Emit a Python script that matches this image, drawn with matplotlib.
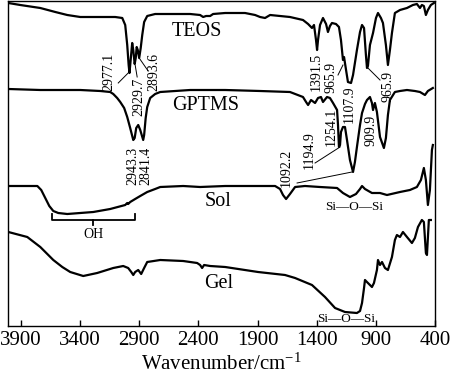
import matplotlib
matplotlib.use("Agg")
import matplotlib.pyplot as plt

plt.rcParams['font.family'] = ['Liberation Serif', 'DejaVu Serif']
plt.rcParams['mathtext.fontset'] = 'custom'
plt.rcParams['mathtext.rm'] = 'Liberation Serif'
plt.rcParams['mathtext.it'] = 'Liberation Serif:italic'

# ---------------- data (wavenumber in cm^-1, transmittance in a.u., offset) ----------------
teos_wn = [4007, 3906, 3737, 3610, 3509, 3399, 3230, 3104, 3044, 3019, 3002, 2990, 2983, 2973,
           2960, 2951, 2939, 2930, 2922, 2913, 2901, 2888, 2875, 2859, 2833, 2766, 2639, 2470,
           2386, 2360, 2335, 2301, 2276, 2174, 2006, 1921, 1879, 1837, 1794, 1626, 1516, 1473,
           1440, 1423, 1406, 1397, 1389, 1372, 1347, 1321, 1305, 1288, 1271, 1237, 1212, 1195,
           1178, 1169, 1152, 1136, 1110, 1093, 1060, 1034, 1017, 1000, 984, 975, 967, 950, 924,
           899, 882, 857, 840, 815, 798, 781, 764, 739, 696, 637, 587, 553, 527, 511, 494, 477,
           460, 435, 409]
teos_t = [323, 321, 318, 314, 311, 309, 309, 309, 308, 301, 281, 261, 253, 266,
          283, 276, 262, 268, 279, 276, 268, 278, 291, 304, 310, 312, 312, 312,
          311, 309, 310, 310, 312, 313, 313, 311, 309, 308, 311, 309, 306, 302,
          298, 301, 286, 276, 286, 301, 308, 302, 294, 300, 303, 302, 299, 286,
          266, 269, 256, 244, 243, 251, 276, 294, 301, 298, 271, 258, 260, 281, 293,
          308, 313, 308, 303, 281, 261, 276, 293, 313, 316, 318, 321, 322, 318, 321, 320, 311,
          316, 321, 323]

gptms_wn = [4007, 3737, 3399, 3230, 3146, 3120, 3087, 3061, 3028, 3002, 2977, 2951, 2939, 2926,
            2909, 2892, 2867, 2859, 2846, 2833, 2808, 2766, 2723, 2470, 2174, 1879, 1626, 1516,
            1490, 1473, 1448, 1414, 1389, 1364, 1347, 1313, 1288, 1262, 1228, 1220, 1212, 1203,
            1195, 1178, 1161, 1144, 1119, 1093, 1077, 1060, 1034, 1017, 992, 975, 950, 933, 924,
            908, 891, 865, 832, 815, 798, 781, 739, 696, 637, 570, 527, 485, 460, 418]
gptms_t = [237, 236, 236, 235, 234, 232, 228, 224, 218, 209, 198, 186, 188, 198,
           201, 196, 186, 191, 208, 219, 228, 232, 234, 236, 236, 235, 234, 229,
           224, 221, 226, 223, 228, 229, 224, 229, 228, 223, 216, 201, 179, 181,
           194, 199, 199, 186, 166, 154, 164, 179, 201, 213, 222, 226, 229, 223, 216,
           223, 214, 189, 178, 188, 211, 226, 234, 235, 236, 235, 234, 231, 235, 238]

sol_wn = [4007, 3762, 3729, 3695, 3661, 3627, 3585, 3509, 3399, 3289, 3146, 3019, 3002, 2994,
          2977, 2935, 2892, 2833, 2766, 2723, 2529, 2386, 2174, 1963, 1752, 1710, 1685, 1659,
          1626, 1583, 1499, 1372, 1228, 1178, 1119, 1068, 1034, 1017, 992, 933, 865, 806, 696,
          612, 553, 519, 494, 477, 460, 443, 426, 418]
sol_t = [140, 140, 136, 128, 120, 115, 113, 112, 113, 114, 117, 121, 123, 122,
         124, 127, 130, 134, 137, 139, 140, 139, 140, 140, 140, 137, 131, 127,
         132, 139, 140, 139, 138, 133, 129, 132, 137, 140, 137, 133, 133, 131, 134,
         136, 139, 146, 158, 146, 121, 136, 176, 181]

gel_wn = [4007, 3847, 3737, 3627, 3551, 3484, 3374, 3256, 3120, 3036, 2994, 2968, 2951, 2935,
          2909, 2884, 2859, 2833, 2723, 2529, 2411, 2386, 2369, 2352, 2301, 2174, 1896, 1668,
          1583, 1440, 1330, 1245, 1161, 1060, 1034, 1017, 1000, 992, 967, 933, 916, 891, 882,
          865, 848, 823, 798, 764, 739, 722, 696, 671, 637, 595, 570, 544, 511, 494, 477, 468,
          452, 435]
gel_t = [94, 89, 79, 66, 59, 54, 50, 53, 58, 60, 58, 54, 51, 54,
         56, 52, 58, 64, 66, 65, 63, 61, 58, 61, 60, 59, 54, 51,
         48, 41, 29, 18, 14, 13, 15, 23, 38, 46, 43, 39, 43, 56, 66,
         61, 64, 58, 56, 69, 86, 91, 89, 94, 89, 83, 88, 99, 106, 104, 73, 71,
         106, 106]

curve_names = ["TEOS", "GPTMS", "Sol", "Gel"]
name_pos = [(2411, 294), (2335, 220), (2238, 124), (2229, 43)]

xticks = [3900, 3400, 2900, 2400, 1900, 1400, 900, 400]

# peak labels: (text, x, y)
peak_labels = [("2977.1", 3154, 254), ("2929.7", 2901, 229), ("2893.6", 2774, 254),
               ("2943.3", 2951, 160), ("2841.4", 2842, 160),
               ("1391.5", 1406, 254), ("965.9", 1279, 249), ("1107.9", 1127, 222),
               ("965.9", 798, 240), ("1254.1", 1279, 199), ("1194.9", 1465, 176),
               ("909.9", 941, 196), ("1092.2", 1659, 158)]
leaders = [((3078, 243), (2994, 253)), ((2935, 261), (2918, 249)), ((2901, 268), (2825, 255)),
           ((1220, 251), (1178, 261)), ((967, 258), (865, 246)),
           ((1414, 163), (1203, 179)), ((1566, 143), (1102, 154))]

# ---------------- figure ----------------
fig = plt.figure(figsize=(4.5, 3.73), dpi=100)
ax = fig.add_axes([8/450, 1 - 326/373, 427/450, 325/373])

for wn, t in [(teos_wn, teos_t), (gptms_wn, gptms_t), (sol_wn, sol_t), (gel_wn, gel_t)]:
    ax.plot(wn, t, color='black', lw=1.6, solid_joinstyle='round')

for name, (x, y) in zip(curve_names, name_pos):
    ax.text(x, y, name, fontsize=14.5, ha='center', va='center')

for txt, x, y in peak_labels:
    ax.text(x, y, txt, fontsize=10, rotation=90, ha='center', va='center')

for (a, b) in leaders:
    ax.plot([a[0], b[0]], [a[1], b[1]], color='black', lw=0.7)

# OH bracket
ax.plot([3636, 3636, 2935, 2935], [112, 106, 106, 112], color='black', lw=1.3)
ax.plot([3289, 3289], [106, 101], color='black', lw=1.3)
ax.text(3289, 91, "OH", fontsize=10, ha='center', va='center')

ax.text(1081, 119, "Si—O—Si", fontsize=9.5, ha='center', va='center')
ax.text(1152, 7, "Si—O—Si", fontsize=9.5, ha='center', va='center')

ax.set_xlim(4010, 400)
ax.set_ylim(0, 325)
ax.set_xticks(xticks)
ax.set_xticklabels([str(v) for v in xticks])
ax.set_yticks([])
ax.tick_params(axis='x', direction='in', length=4, width=1, labelsize=15, pad=3.5)
for s in ax.spines.values():
    s.set_linewidth(1.0)
ax.set_xlabel("Wavenumber/cm$^{-1}$", fontsize=15, labelpad=2.5)

fig.savefig("out.png", dpi=100)
